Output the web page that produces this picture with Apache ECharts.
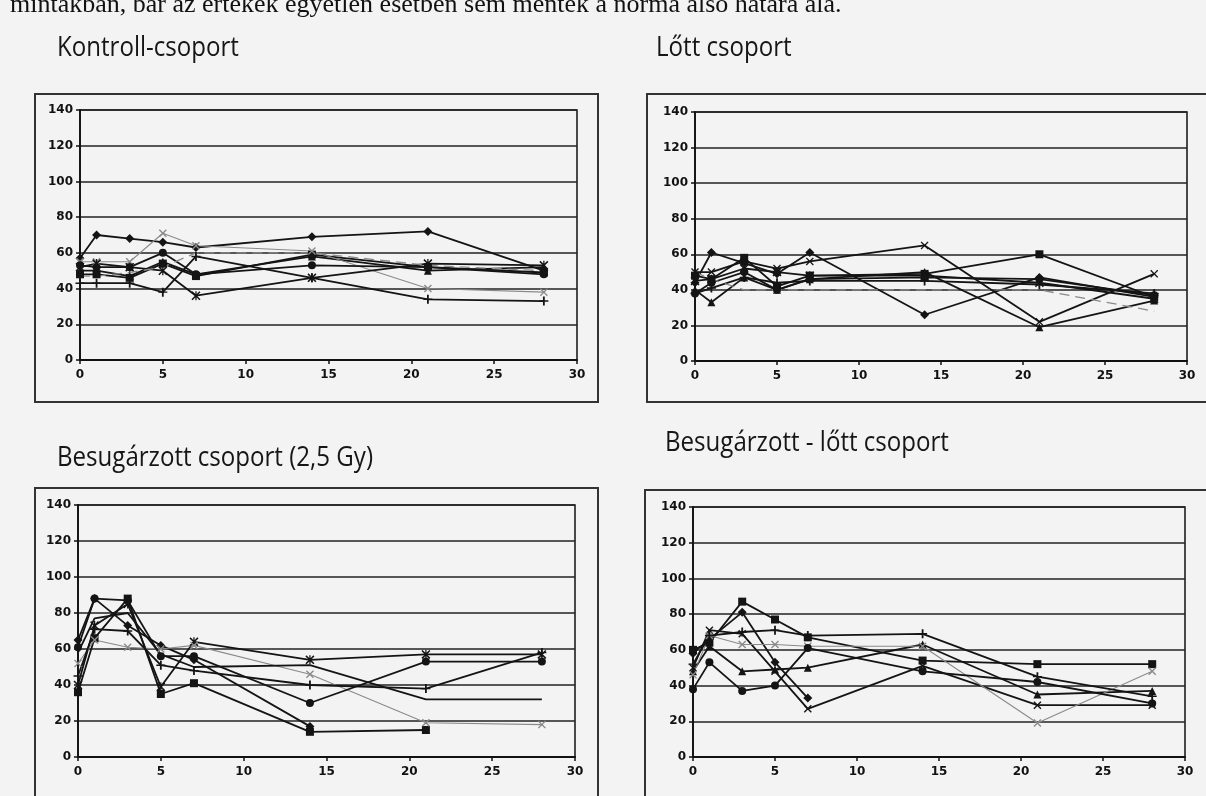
<!DOCTYPE html>
<html>
<head>
<meta charset="utf-8">
<script src="https://cdn.jsdelivr.net/npm/echarts@6/dist/echarts.min.js"></script>
<style>
  html, body { margin: 0; padding: 0; background: #f3f3f3; }
  #chart { width: 1206px; height: 796px; }
</style>
</head>
<body>
<div id="chart"></div>
<script>
// Sampling days (x axis)
const days = [0, 1, 3, 5, 7, 14, 21, 28];

// Panel titles and the running text line above the figure
const panelTitles = ['Kontroll-csoport', 'Lőtt csoport', 'Besugárzott csoport (2,5 Gy)', 'Besugárzott - lőtt csoport'];
const bodyText = 'mintákban, bár az értékek egyetlen esetben sem mentek a norma alsó határa alá.';

// Axis scales
const yMin = 0, yMax = 140, yStep = 20;
const xMin = 0, xMax = 30, xStep = 5;

// Kontroll-csoport: one row per animal
const kontrollRows = [
  [57, 70, 68, 66, 63, 69, 72, 50],
  [48, 48, 46, 54, 47, 59, 52, 49],
  [50, 50, 47, 55, 48, 58, 50, 52],
  [55, 55, 55, 71, 64, 61, 40, 38],
  [52, 54, 52, 50, 36, 46, 54, 53],
  [53, 52, 52, 60, 48, 53, 52, 48],
  [43, 43, 43, 38, 58, 46, 34, 33],
  [47, 47, 49, 52, 60, 60, 53, 50]
];
const kontrollMarks = ['diamond', 'square', 'triangle', 'crossGray', 'star', 'circle', 'plus', 'dashGray'];

// Lőtt csoport
const lottRows = [
  [44, 61, 55, 49, 61, 26, 47, 36],
  [48, 46, 58, 42, 48, 49, 60, 36],
  [40, 33, 47, 40, 46, 50, 19, 34],
  [50, 50, 56, 52, 56, 65, 22, 49],
  [45, 46, 52, 50, 48, 48, 44, 35],
  [38, 44, 50, 40, 46, 47, 46, 37],
  [38, 41, 47, 44, 45, 45, 43, 38],
  [50, 46, 40, 40, 40, 40, 40, 28]
];
const lottMarks = ['diamond', 'square', 'triangle', 'cross', 'star', 'circle', 'plus', 'dashGray'];

// Besugárzott csoport (2,5 Gy)
const besugRows = [
  [65, 88, 73, 62, 54, 17, null, null],
  [36, 66, 88, 35, 41, 14, 15, null],
  [40, 73, 85, 39, 64, 54, 57, 57],
  [52, 65, 61, 60, 62, 46, 19, 18],
  [45, 71, 70, 51, 48, 40, 38, 58],
  [61, 88, 87, 56, 56, 30, 53, 53],
  [58, 77, 80, 57, 50, 51, 32, 32]
];
const besugMarks = ['diamond', 'square', 'star', 'crossGray', 'plus', 'circle', 'none'];

// Besugárzott - lőtt csoport
const besugLottRows = [
  [58, 66, 81, 53, 33, null, null, null],
  [60, 64, 87, 77, 67, 54, 52, 52],
  [48, 62, 48, 49, 50, 63, 35, 37],
  [50, 71, 69, 48, 27, 51, 29, 29],
  [46, 68, 63, 63, 62, 62, 19, 48],
  [52, 68, 70, 71, 68, 69, 45, 34],
  [38, 53, 37, 40, 61, 48, 42, 30]
];
const besugLottMarks = ['diamond', 'square', 'triangle', 'cross', 'crossGray', 'plus', 'circle'];

const panelRows = [kontrollRows, lottRows, besugRows, besugLottRows];
const panelMarks = [kontrollMarks, lottMarks, besugMarks, besugLottMarks];

// Marker shapes
const INK = '#141414';
const GRAY = '#8a8a8a';
const crossPath = 'path://M1.2,0L5,3.8L8.8,0L10,1.2L6.2,5L10,8.8L8.8,10L5,6.2L1.2,10L0,8.8L3.8,5L0,1.2Z';
const starPath = 'path://M1.2,0L5,3.8L8.8,0L10,1.2L6.2,5L10,8.8L8.8,10L5,6.2L1.2,10L0,8.8L3.8,5L0,1.2Z M4.3,0L5.7,0L5.7,10L4.3,10Z';
const plusPath = 'path://M4.2,0L5.8,0L5.8,4.2L9,4.2L9,5.8L5.8,5.8L5.8,10L4.2,10L4.2,5.8L1,5.8L1,4.2L4.2,4.2Z';

function markStyle(kind) {
  const base = { symbol: 'none', symbolSize: 8, color: INK, width: 1.8, type: 'solid' };
  switch (kind) {
    case 'diamond': return Object.assign(base, { symbol: 'diamond', symbolSize: 9 });
    case 'square': return Object.assign(base, { symbol: 'rect', symbolSize: 8 });
    case 'triangle': return Object.assign(base, { symbol: 'triangle', symbolSize: 8 });
    case 'circle': return Object.assign(base, { symbol: 'circle', symbolSize: 8 });
    case 'cross': return Object.assign(base, { symbol: crossPath, symbolSize: 8 });
    case 'star': return Object.assign(base, { symbol: starPath, symbolSize: 9 });
    case 'plus': return Object.assign(base, { symbol: plusPath, symbolSize: 9 });
    case 'crossGray': return Object.assign(base, { symbol: crossPath, symbolSize: 8, color: GRAY, width: 1.1 });
    case 'dashGray': return Object.assign(base, { color: GRAY, width: 1.3, type: [10, 6] });
    default: return base;
  }
}

// Plot areas and the framed boxes around each chart
const grids = [
  { left: 80, top: 110, width: 497, height: 250 },
  { left: 695, top: 112, width: 492, height: 249 },
  { left: 78, top: 505, width: 497, height: 252 },
  { left: 693, top: 507, width: 492, height: 250 }
];
const boxes = [
  { x: 35, y: 94, w: 563, h: 308 },
  { x: 647, y: 94, w: 580, h: 308 },
  { x: 35, y: 488, w: 563, h: 330 },
  { x: 645, y: 490, w: 580, h: 330 }
];
const titlePos = [[57, 34], [656, 34], [57, 444], [665, 429]];

const axisFont = { fontFamily: 'DejaVu Sans', fontWeight: 'bold', fontSize: 12, color: '#111' };

const option = {
  backgroundColor: '#f3f3f3',
  animation: false,
  grid: grids.map(g => Object.assign({
    show: true, borderColor: '#1e1e1e', borderWidth: 1.6, backgroundColor: 'transparent'
  }, g)),
  xAxis: grids.map((g, i) => ({
    type: 'value', gridIndex: i, min: xMin, max: xMax, interval: xStep,
    axisLine: { show: true, onZero: false, lineStyle: { color: '#111', width: 1.8 } },
    axisTick: { show: true, inside: false, length: 4, lineStyle: { color: '#111', width: 1.5 } },
    axisLabel: Object.assign({ margin: 9 }, axisFont),
    splitLine: { show: false }
  })),
  yAxis: grids.map((g, i) => ({
    type: 'value', gridIndex: i, min: yMin, max: yMax, interval: yStep,
    axisLine: { show: true, lineStyle: { color: '#111', width: 1.8 } },
    axisTick: { show: true, inside: false, length: 4, lineStyle: { color: '#111', width: 1.5 } },
    axisLabel: Object.assign({ margin: 7 }, axisFont),
    splitLine: { show: true, lineStyle: { color: '#222', width: 1.6 } }
  })),
  series: [],
  graphic: []
};

panelRows.forEach((rows, p) => {
  rows.forEach((row, r) => {
    const st = markStyle(panelMarks[p][r]);
    option.series.push({
      type: 'line',
      xAxisIndex: p, yAxisIndex: p,
      data: days.map((d, k) => [d, row[k]]),
      connectNulls: false,
      symbol: st.symbol,
      symbolSize: st.symbolSize,
      showSymbol: st.symbol !== 'none',
      lineStyle: { color: st.color, width: st.width, type: st.type },
      itemStyle: { color: st.color, borderWidth: 0 },
      z: 3
    });
  });
});

// Frames around each chart
boxes.forEach(b => {
  option.graphic.push({
    type: 'rect', z: 1,
    shape: { x: b.x, y: b.y, width: b.w, height: b.h },
    style: { fill: 'transparent', stroke: '#333', lineWidth: 2 }
  });
});

// Chart titles
panelTitles.forEach((t, i) => {
  option.graphic.push({
    type: 'text', x: titlePos[i][0], y: titlePos[i][1], scaleX: 0.86,
    style: {
      text: t, fill: '#161616',
      font: '28px "Open Sans"',
      textAlign: 'left', textVerticalAlign: 'top'
    }
  });
});

// Running text line cut off at the top edge
option.graphic.push({
  type: 'text', x: 10, y: -8,
  style: {
    text: bodyText, fill: '#111',
    font: '26px "Liberation Serif"',
    textAlign: 'left', textVerticalAlign: 'top'
  }
});

const chart = echarts.init(document.getElementById('chart'), null, { renderer: 'canvas' });
chart.setOption(option);
</script>
</body>
</html>
